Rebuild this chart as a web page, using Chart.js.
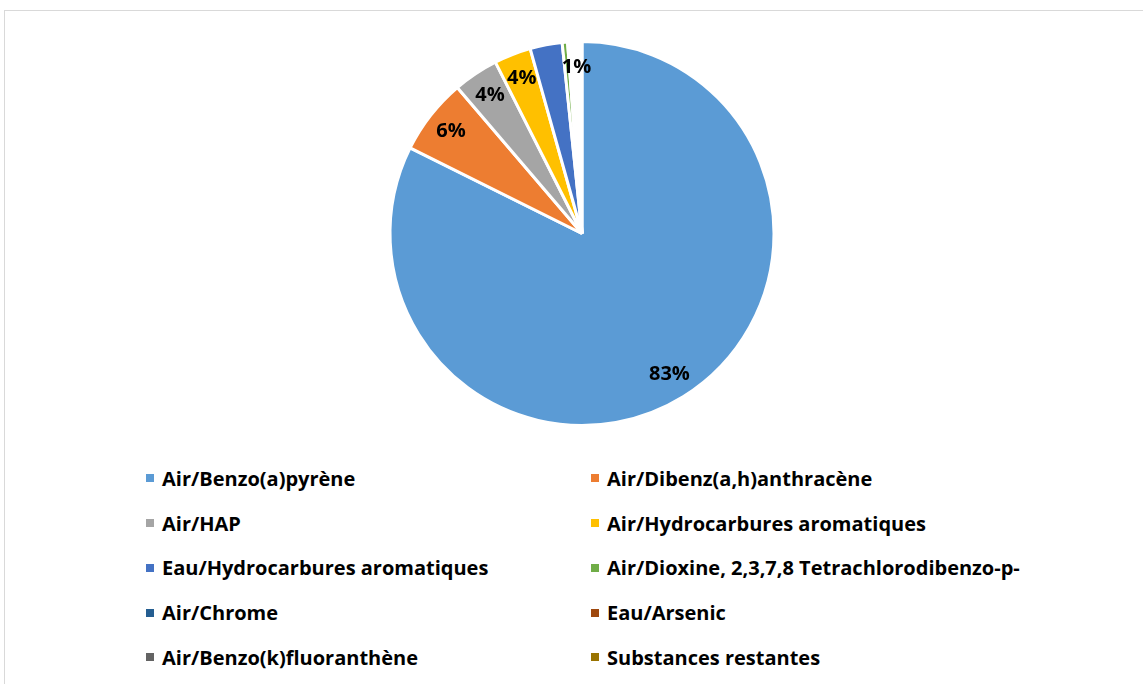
<!DOCTYPE html>
<html>
<head>
<meta charset="utf-8">
<script src="https://cdn.jsdelivr.net/npm/chart.js@4"></script>
<style>
  html, body { margin: 0; padding: 0; background: #fff; }
  body { width: 1143px; height: 684px; position: relative; overflow: hidden; font-family: "Open Sans", sans-serif; }
  #cadre { position: absolute; left: 4px; top: 10px; width: 1160px; height: 700px; border: 1px solid #d9d9d9; box-sizing: border-box; }
  #zone { position: absolute; left: 0; top: 0; width: 1143px; height: 440px; }
  #legende { position: absolute; left: 146px; top: 456px; width: 990px; display: grid; grid-template-columns: 445px 545px; }
  #legende .item { height: 44.75px; display: flex; align-items: center; font-weight: bold; font-size: 20px; color: #000; white-space: nowrap; }
  #legende .boite { width: 8px; height: 8px; margin-right: 8px; flex: none; }
</style>
</head>
<body>
<div id="cadre"></div>
<div id="zone"><canvas id="camembert"></canvas></div>
<div id="legende"></div>
<script>
// données ---------------------------------------------------------------
const substances = [
  'Air/Benzo(a)pyrène',
  'Air/Dibenz(a,h)anthracène',
  'Air/HAP',
  'Air/Hydrocarbures aromatiques',
  'Eau/Hydrocarbures aromatiques',
  'Air/Dioxine, 2,3,7,8 Tetrachlorodibenzo-p-',
  'Air/Chrome',
  'Eau/Arsenic',
  'Air/Benzo(k)fluoranthène',
  'Substances restantes'
];
const parts = [82.35, 6.4, 3.8, 3.1, 2.7, 0.45, 0.05, 0.05, 0.05, 1.05];
const etiquettes = ['83%', '6%', '4%', '4%', '', '', '', '', '', '1%'];

// couleurs (légende) et remplissage des parts
const couleurs = ['#5b9bd5', '#ed7d31', '#a5a5a5', '#ffc000', '#4472c4', '#70ad47', '#255e91', '#9e480e', '#636363', '#997300'];
const remplissage = couleurs.slice(0, 9).concat(['#ffffff']);

// étiquettes de données au centre des parts
const etiquettesPlugin = {
  id: 'etiquettes',
  afterDatasetsDraw(chart) {
    const ctx = chart.ctx;
    const meta = chart.getDatasetMeta(0);
    ctx.save();
    ctx.font = 'bold 20px "Open Sans", sans-serif';
    ctx.fillStyle = '#000';
    ctx.textAlign = 'center';
    ctx.textBaseline = 'middle';
    meta.data.forEach((arc, i) => {
      if (!etiquettes[i]) return;
      const p = arc.getProps(['x', 'y', 'startAngle', 'endAngle', 'outerRadius'], true);
      const a = (p.startAngle + p.endAngle) / 2;
      const r = p.outerRadius * 0.865;
      ctx.fillText(etiquettes[i], p.x + Math.cos(a) * r, p.y + Math.sin(a) * r);
    });
    ctx.restore();
  }
};

const ctx = document.getElementById('camembert');
new Chart(ctx, {
  type: 'pie',
  data: {
    labels: substances,
    datasets: [{
      data: parts,
      backgroundColor: remplissage,
      borderColor: '#ffffff',
      borderWidth: 3
    }]
  },
  options: {
    responsive: true,
    maintainAspectRatio: false,
    animation: false,
    layout: { padding: { left: 21, top: 40, bottom: 13 } },
    plugins: {
      legend: { display: false },
      tooltip: { enabled: false }
    }
  },
  plugins: [etiquettesPlugin]
});

// légende en deux colonnes
const legende = document.getElementById('legende');
substances.forEach((nom, i) => {
  const item = document.createElement('div');
  item.className = 'item';
  const boite = document.createElement('span');
  boite.className = 'boite';
  boite.style.background = couleurs[i];
  item.appendChild(boite);
  item.appendChild(document.createTextNode(nom));
  legende.appendChild(item);
});
</script>
</body>
</html>
